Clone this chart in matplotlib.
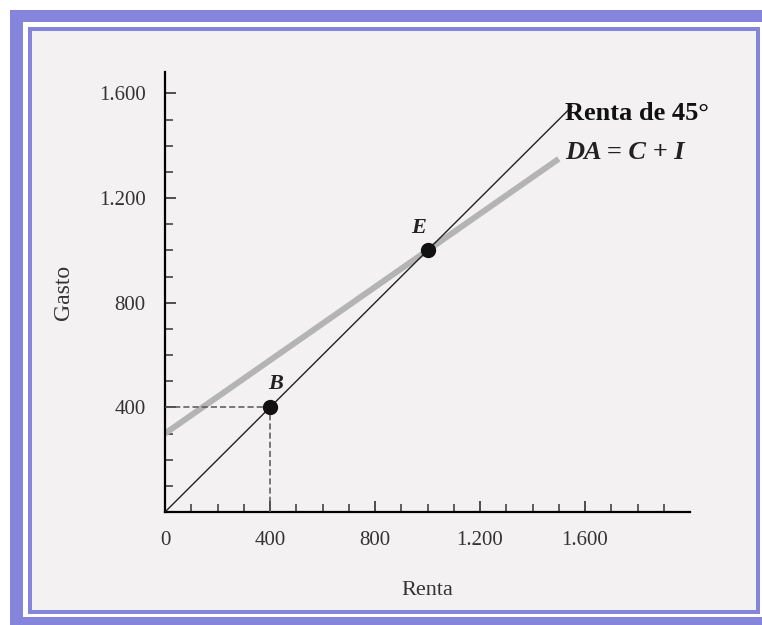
import matplotlib
matplotlib.use("Agg")
import matplotlib.pyplot as plt
from matplotlib.patches import Rectangle
from matplotlib.ticker import FixedLocator

# datos del grafico
renta_45 = [0, 1550]          # linea de 45 grados
gasto_45 = [0, 1550]
renta_da = [0, 1500]          # demanda agregada DA = C + I
gasto_da = [300, 1350]
punto_e = (1000, 1000)
punto_b = (400, 400)
xticks = [0, 400, 800, 1200, 1600]
xlabels = ["0", "400", "800", "1.200", "1.600"]
yticks = [400, 800, 1200, 1600]
ylabels = ["400", "800", "1.200", "1.600"]

W, H = 762, 625
plt.rcParams['font.family'] = ['Liberation Serif', 'DejaVu Serif']
fig = plt.figure(figsize=(W / 100, H / 100), dpi=100, facecolor="white")

def rect_px(x0, y0, x1, y1, **kw):  # pixeles con origen arriba a la izquierda
    r = Rectangle((x0 / W, 1 - y1 / H), (x1 - x0) / W, (y1 - y0) / H,
                  transform=fig.transFigure, zorder=-5, **kw)
    fig.add_artist(r)

azul = "#8585dc"
rect_px(10, 10, 800, 700, facecolor=azul, edgecolor="none")
rect_px(23, 22, 800, 617, facecolor="white", edgecolor="none")
rect_px(28, 27, 760, 614, facecolor=azul, edgecolor="none")
rect_px(32, 31, 756, 610, facecolor="#f3f1f1", edgecolor="none")

ax = fig.add_axes([165 / W, 1 - 512 / H, 525 / W, 440 / H])
ax.set_facecolor("none")
ax.set_xlim(0, 2000)
ax.set_ylim(0, 1682)

ax.plot(renta_da, gasto_da, color="#b4b4b4", lw=4.3, solid_capstyle="butt", zorder=2)
ax.plot(renta_45, gasto_45, color="#222222", lw=1.0, zorder=3)
ax.plot([0, punto_b[0]], [punto_b[1], punto_b[1]], ls=(0, (4, 2)), color="#555555", lw=1.1, zorder=3)
ax.plot([punto_b[0], punto_b[0]], [0, punto_b[1]], ls=(0, (4, 2)), color="#555555", lw=1.1, zorder=3)
ax.plot(*punto_e, "o", color="#111111", ms=10, zorder=4)
ax.plot(*punto_b, "o", color="#111111", ms=10, zorder=4)
ax.text(punto_e[0] - 35, punto_e[1] + 85, "E", fontsize=16, style="italic", fontweight="bold",
        ha="center", va="center", color="#222222")
ax.text(punto_b[0] + 20, punto_b[1] + 90, "B", fontsize=16, style="italic", fontweight="bold",
        ha="center", va="center", color="#222222")

ax.text(1525, 1525, "Renta de 45°", fontsize=19, fontweight="bold", ha="left", va="center",
        color="#111111")
ax.text(1525, 1376, "DA = C + I", fontsize=19, fontweight="bold", style="italic", ha="left",
        va="center", color="#222222")

for s in ["top", "right"]:
    ax.spines[s].set_visible(False)
for s in ["left", "bottom"]:
    ax.spines[s].set_linewidth(1.6)
    ax.spines[s].set_color("black")

ax.set_xticks(xticks)
ax.set_xticklabels(xlabels)
ax.set_yticks(yticks)
ax.set_yticklabels(ylabels)
ax.xaxis.set_minor_locator(FixedLocator([v for v in range(100, 2000, 100)]))
ax.yaxis.set_minor_locator(FixedLocator([v for v in range(100, 1700, 100)]))
ax.tick_params(which="major", direction="in", length=8, width=1.2, color="#333333",
               labelsize=15, labelcolor="#333333", pad=14)
ax.tick_params(which="minor", direction="in", length=6, width=1.2, color="#444444")

ax.set_xlabel("Renta", fontsize=16, color="#333333", labelpad=22)
ax.set_ylabel("Gasto", fontsize=17, color="#333333", labelpad=18)

fig.savefig("out.png", dpi=100)
